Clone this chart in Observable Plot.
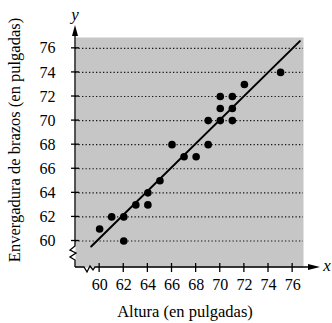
<!DOCTYPE html>
<html><head><meta charset="utf-8">
<script src="https://cdn.jsdelivr.net/npm/d3@7"></script>
<script src="https://cdn.jsdelivr.net/npm/@observablehq/plot@0.6"></script>
<style>
body{margin:0;background:#fff}
#chart svg, #chart svg text{font-family:"Liberation Serif", serif !important;}
</style>
</head><body><div id="chart"></div>
<script>
const altura      = [60, 61, 62, 62, 63, 64, 64, 65, 66, 67, 68, 69, 69, 70, 70, 70, 71, 71, 71, 72, 75];
const envergadura = [61, 62, 62, 60, 63, 64, 63, 65, 68, 67, 67, 68, 70, 70, 71, 72, 72, 71, 70, 73, 74];
const lineX = [59.3, 76.6];
const lineY = [59.55, 76.6];
const xTicks = [60, 62, 64, 66, 68, 70, 72, 74, 76];
const yTicks = [60, 62, 64, 66, 68, 70, 72, 74, 76];
const xTitle = "Altura (en pulgadas)";
const yTitle = "Envergadura de brazos (en pulgadas)";
const xName = "x";
const yName = "y";

const points = altura.map((a, i) => ({a, e: envergadura[i]}));
const fit = lineX.map((x, i) => ({x, y: lineY[i]}));
const font = "Liberation Serif";

const chart = Plot.plot({
  width: 332, height: 323,
  marginLeft: 75, marginRight: 29, marginTop: 37, marginBottom: 56,
  style: {fontFamily: font, fontSize: "16px", color: "#000", background: "#fff", overflow: "visible"},
  x: {domain: [58, 76.9], label: null},
  y: {domain: [57.8, 76.9], label: null},
  marks: [
    Plot.frame({fill: "#c6c6c6", stroke: "none"}),
    Plot.gridY(yTicks, {stroke: "#000", strokeOpacity: 0.9, strokeWidth: 1.1, strokeDasharray: "1.3,2.2"}),
    Plot.axisX(xTicks, {tickSize: 0, tickPadding: 11, fontSize: 16, label: null}),
    Plot.axisY(yTicks, {tickSize: 0, tickPadding: 20, fontSize: 16, label: null}),
    Plot.line(fit, {x: "x", y: "y", stroke: "#000", strokeWidth: 2}),
    Plot.dot(points, {x: "a", y: "e", r: 3.8, fill: "#000"})
  ]
});

// axis decorations through the plot's own scales
const sx = chart.scale("x"), sy = chart.scale("y");
const X = d3.scaleLinear(sx.domain, sx.range);
const Y = d3.scaleLinear(sy.domain, sy.range);
const svg = d3.select(chart);
const g = svg.append("g").attr("stroke", "#000").attr("fill", "none").attr("stroke-width", 1.3);
const x0 = X(sx.domain[0]), y0 = Y(sy.domain[0]);
const xEnd = X(sx.domain[1]) + 17, yEnd = Y(sy.domain[1]) - 12;
// left axis with break
g.append("path").attr("d",
  `M${x0},${yEnd + 8} L${x0},${y0 - 21} L${x0 - 5},${y0 - 17} L${x0 + 1},${y0 - 14} L${x0 - 5},${y0 - 10} L${x0},${y0 - 7} L${x0},${y0}`);
// bottom axis with break
g.append("path").attr("d",
  `M${x0},${y0} L${x0 + 9},${y0} L${x0 + 12},${y0 + 5} L${x0 + 15},${y0 - 1} L${x0 + 18},${y0 + 3} L${x0 + 20},${y0} L${xEnd - 8},${y0}`);
// arrowheads
svg.append("path").attr("fill", "#000").attr("d",
  `M${x0},${yEnd} L${x0 - 3},${yEnd + 11} L${x0 + 3},${yEnd + 11} Z`);
svg.append("path").attr("fill", "#000").attr("d",
  `M${xEnd},${y0} L${xEnd - 12},${y0 - 3} L${xEnd - 12},${y0 + 3} Z`);
// ticks
for (const t of xTicks) g.append("line").attr("x1", X(t)).attr("x2", X(t)).attr("y1", y0 - 4).attr("y2", y0 + 5);
for (const t of yTicks) g.append("line").attr("x1", x0 - 4).attr("x2", x0 + 4).attr("y1", Y(t)).attr("y2", Y(t));
// axis names
svg.append("text").attr("x", x0).attr("y", yEnd - 5).attr("text-anchor", "middle")
  .attr("font-style", "italic").attr("font-size", 17).text(yName);
svg.append("text").attr("x", xEnd + 7).attr("y", y0 + 4).attr("text-anchor", "middle")
  .attr("font-style", "italic").attr("font-size", 17).text(xName);
// titles
svg.append("text").attr("x", (x0 + X(sx.domain[1])) / 2 - 4).attr("y", 317).attr("text-anchor", "middle")
  .attr("font-size", 16.5).text(xTitle);
svg.append("text").attr("transform", `translate(20,140) rotate(-90)`).attr("text-anchor", "middle")
  .attr("font-size", 16.5).text(yTitle);

document.getElementById("chart").appendChild(chart);
</script>
</body></html>
